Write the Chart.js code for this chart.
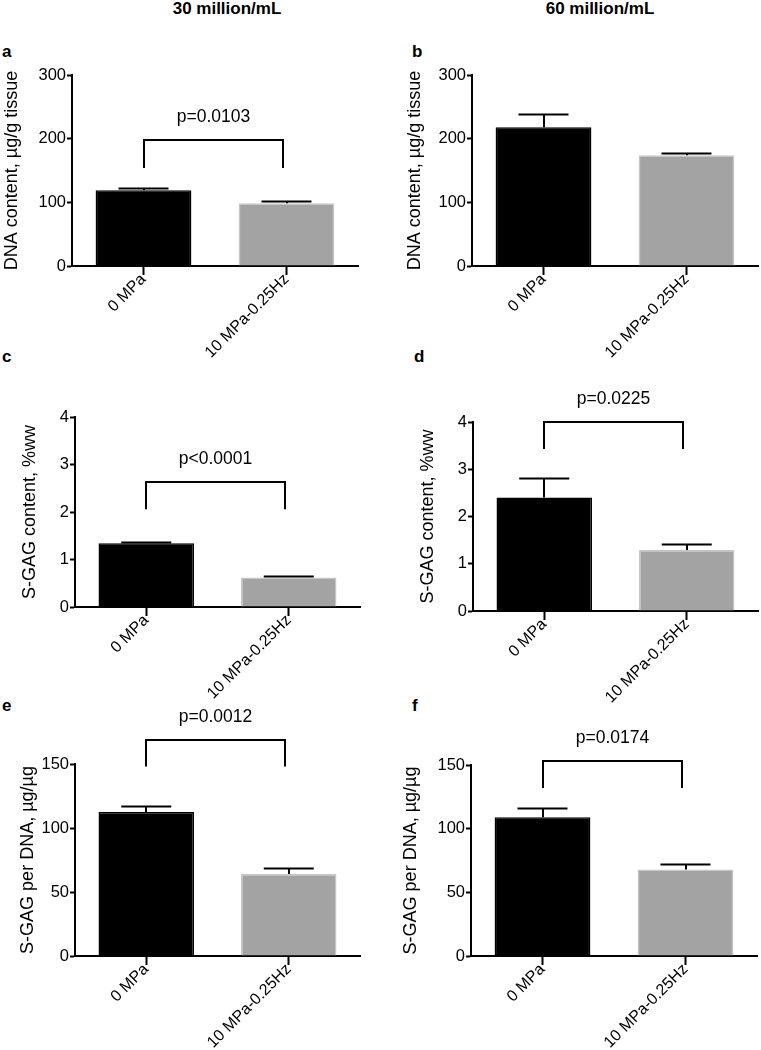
<!DOCTYPE html>
<html>
<head>
<meta charset="utf-8">
<script src="https://cdn.jsdelivr.net/npm/chart.js@4.4.1/dist/chart.umd.min.js"></script>
<style>
  body { margin: 0; background: #fff; width: 761px; height: 1050px; position: relative; overflow: hidden;
         font-family: "Liberation Sans", Arial, sans-serif; color: #000; }
  canvas { position: absolute; }
  .lbl { position: absolute; font-weight: bold; font-size: 17px; line-height: 17px; white-space: nowrap; }
</style>
</head>
<body>
<div class="lbl" style="left:127px; top:0; width:200px; text-align:center;">30 million/mL</div>
<div class="lbl" style="left:500px; top:0; width:200px; text-align:center;">60 million/mL</div>
<div class="lbl" style="left:2px; top:43px;">a</div>
<div class="lbl" style="left:412px; top:43px;">b</div>
<div class="lbl" style="left:2px; top:348px;">c</div>
<div class="lbl" style="left:414px; top:348px;">d</div>
<div class="lbl" style="left:2px; top:697px;">e</div>
<div class="lbl" style="left:412px; top:697px;">f</div>

<script>
// data
const categories = ['0 MPa', '10 MPa-0.25Hz'];

const dna30 = [119, 98.5];
const dna30Err = [3.5, 3.5];
const dna60 = [218, 174];
const dna60Err = [21, 3.5];

const gag30 = [1.34, 0.62];
const gag30Err = [0.02, 0.04];
const gag60 = [2.4, 1.29];
const gag60Err = [0.41, 0.12];

const perDna30 = [112.5, 64];
const perDna30Err = [5, 5];
const perDna60 = [109, 68];
const perDna60Err = [7, 4.5];

const dnaTicks = [0, 100, 200, 300];
const gagTicks = [0, 1, 2, 3, 4];
const perDnaTicks = [0, 50, 100, 150];

// significance brackets: [label, top value, foot value]
const sigA = ['p=0.0103', 198, 154];
const sigC = ['p<0.0001', 2.63, 2.06];
const sigD = ['p=0.0225', 4.0, 3.43];
const sigE = ['p=0.0012', 169, 148];
const sigF = ['p=0.0174', 153, 132];

const FONT = '"Liberation Sans", Arial, sans-serif';
Chart.defaults.font.family = FONT;
Chart.defaults.color = '#000';

// error bars + bracket
const extras = {
  id: 'extras',
  afterDatasetsDraw(chart) {
    const o = chart.options.plugins.extras;
    const { ctx } = chart;
    const y = chart.scales.y;
    const meta = chart.getDatasetMeta(0);
    ctx.save();
    ctx.strokeStyle = '#000';
    ctx.lineWidth = 2;
    o.err.forEach((e, i) => {
      const bar = meta.data[i];
      const top = Math.round(y.getPixelForValue(o.values[i] + e)) + 0.5;
      ctx.beginPath();
      ctx.moveTo(Math.round(bar.x), bar.y);
      ctx.lineTo(Math.round(bar.x), top);
      ctx.moveTo(bar.x - 25, top);
      ctx.lineTo(bar.x + 25, top);
      ctx.stroke();
    });
    if (o.sig) {
      const [label, hi, lo] = o.sig;
      const x1 = Math.round(meta.data[0].x), x2 = Math.round(meta.data[1].x) - 4;
      const yt = Math.round(y.getPixelForValue(hi)), yb = y.getPixelForValue(lo);
      ctx.beginPath();
      ctx.moveTo(x1, yb);
      ctx.lineTo(x1, yt);
      ctx.lineTo(x2, yt);
      ctx.lineTo(x2, yb);
      ctx.stroke();
      ctx.fillStyle = '#000';
      ctx.font = '17.5px ' + FONT;
      ctx.textAlign = 'center';
      ctx.textBaseline = 'middle';
      ctx.fillText(label, (x1 + x2) / 2, yt - 23);
    }
    ctx.restore();
  }
};

const panels = [
  { left: 0,   top: 60,  w: 380, h: 335, padTop: 15, padRight: 22, yW: 72, xH: 129, titlePad: 1.2,
    values: dna30, err: dna30Err, ticks: dnaTicks, sig: sigA, title: 'DNA content, µg/g tissue' },
  { left: 380, top: 60,  w: 381, h: 335, padTop: 15, padRight: 3,  yW: 92, xH: 129, titlePad: 24.2,
    values: dna60, err: dna60Err, ticks: dnaTicks, sig: null, title: 'DNA content, µg/g tissue' },
  { left: 0,   top: 380, w: 380, h: 330, padTop: 37, padRight: 20, yW: 75, xH: 103, titlePad: 19.2,
    values: gag30, err: gag30Err, ticks: gagTicks, sig: sigC, title: 'S-GAG content, %ww' },
  { left: 380, top: 380, w: 381, h: 330, padTop: 42, padRight: 3,  yW: 93, xH: 99, titlePad: 37.2,
    values: gag60, err: gag60Err, ticks: gagTicks, sig: sigD, title: 'S-GAG content, %ww' },
  { left: 0,   top: 700, w: 380, h: 350, padTop: 64, padRight: 20, yW: 75, xH: 94, titlePad: 17.2,
    values: perDna30, err: perDna30Err, ticks: perDnaTicks, sig: sigE, title: 'S-GAG per DNA, µg/µg' },
  { left: 380, top: 700, w: 381, h: 350, padTop: 65, padRight: 4,  yW: 91, xH: 94, titlePad: 20.2,
    values: perDna60, err: perDna60Err, ticks: perDnaTicks, sig: sigF, title: 'S-GAG per DNA, µg/µg' },
];

function renderPanel(p) {
  const cv = document.createElement('canvas');
  cv.width = p.w; cv.height = p.h;
  cv.style.left = p.left + 'px'; cv.style.top = p.top + 'px';
  cv.style.width = p.w + 'px'; cv.style.height = p.h + 'px';
  document.body.appendChild(cv);

  new Chart(cv, {
    type: 'bar',
    data: {
      labels: categories,
      datasets: [{
        data: p.values,
        backgroundColor: ['#000000', '#a3a3a3'],
        borderColor: ['#000000', '#c6c6c6'],
        borderWidth: 1.5,
        barPercentage: 0.67,
        categoryPercentage: 1,
      }],
    },
    options: {
      responsive: false,
      animation: false,
      devicePixelRatio: 1,
      layout: { autoPadding: false, padding: { top: p.padTop, right: p.padRight, left: 0, bottom: 0 } },
      plugins: {
        legend: { display: false },
        tooltip: { enabled: false },
        extras: { values: p.values, err: p.err, sig: p.sig },
      },
      scales: {
        x: {
          grid: { offset: false, drawOnChartArea: false, tickLength: 9, tickColor: '#000', tickWidth: 2 },
          border: { color: '#000', width: 2 },
          ticks: { font: { size: 16 }, color: '#000', minRotation: 45, maxRotation: 45, autoSkip: false, padding: -5 },
          afterFit: s => { s.height = p.xH; s.paddingLeft = 0; s.paddingRight = 0; },
        },
        y: {
          min: 0,
          max: p.ticks[p.ticks.length - 1],
          afterBuildTicks: s => { s.ticks = p.ticks.map(v => ({ value: v })); },
          grid: { drawOnChartArea: false, tickLength: 5, tickColor: '#000', tickWidth: 2 },
          border: { color: '#000', width: 2 },
          ticks: { font: { size: 16.5 }, color: '#000', padding: 1 },
          title: { display: true, text: p.title, font: { size: 18 }, color: '#000', padding: { top: p.titlePad, bottom: 0 } },
          afterFit: s => { s.width = p.yW; s.paddingTop = 0; s.paddingBottom = 0; },
        },
      },
    },
    plugins: [extras],
  });
}

panels.forEach(renderPanel);
</script>
</body>
</html>
